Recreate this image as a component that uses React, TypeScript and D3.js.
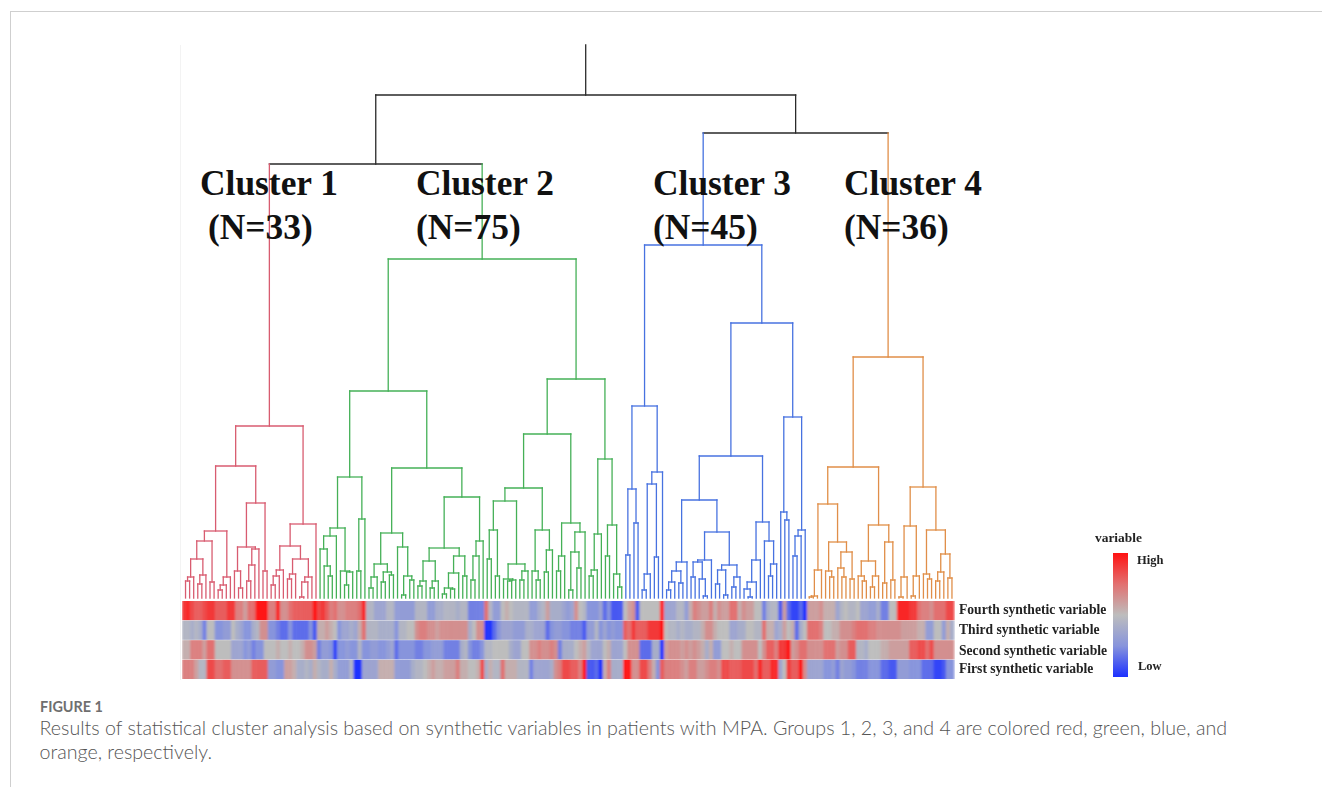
import React from "react";
import * as d3 from "d3";

// Dendrogram merge heights: [height, left, right]; 0 is a single patient (leaf).
const cluster1Tree: any = [172,
  [132,
    [67,
      [57,
        [39, [21, [17, 0, 0], 0], [23, [14, 0, 0], 0]],
        [16, 0, 0]],
      [21, [13, [8, 0, 0], 0], 0]],
    [95,
      [51,
        [27, 0, [10, 0, 0]],
        [49, [33, [17, 0, 0], 0], 0]],
      [27, 0, 0]]],
  [74,
    [52,
      [28, [22, [13, 0, 0], 0], 0],
      [39, [24, [19, 0, 0], 0], [21, [16, [1, 0, 0], 0], 0]]],
    0]];

const cluster2Tree: any = [339,
  [207,
    [121,
      [70,
        [62, [49, 0, [32, 0, [22, 0, 0]]], 0],
        [27, 0, [26, [13, 0, 0], 0]]],
      [79, [27, 0, 0], 0]],
    [130,
      [65,
        [34, [21, [10, 0, 0], 0], [26, [16, 0, 0], [23, 0, 0]]],
        [51, 0, [22, [3, 0, 0], [18, 0, 0]]]],
      [101,
        [50,
          [37, [17, [12, 0, 0], 0], [17, [10, 0, 0], 0]],
          [42, [25, [10, [4, 0, 0], [9, 0, 0]], 0], [22, 0, 0]]],
        [57, [42, [18, 0, 0], 0], 0]]]],
  [219,
    [164,
      [110,
        [97,
          [68, [39, 0, 0], [22, 0, 0]],
          [34, [19, 0, [18, [17, 0, 0], 0]], [27, [18, 0, 0], 0]]],
        [68, [27, 0, [18, 0, 0]], [48, [26, 0, 0], 0]]],
      [75,
        [42, [27, 0, 0], 0],
        [66, [46, [8, 0, 0], [30, 0, 0]], 0]]],
    [139,
      [64, [28, [22, 0, 0], 0], 0],
      [73, [42, 0, 0], [24, 0, [11, 0, 0]]]]]];

const cluster3Tree: any = [353,
  [192,
    [109, [43, 0, 0], [75, 0, 0]],
    [126, [114, [24, [8, 0, 0], 0], [41, 0, 0]], 0]],
  [275,
    [142,
      [98,
        [36, [27, [16, [8, 0, 0], 0], [15, 0, 0]], 0],
        [66,
          [38, [36, [21, 0, 0], [19, 0, [2, 0, 0]]], 0],
          [33, [28, [14, 0, 0], [3, 0, 0]], [21, [11, 0, 0], 0]]]],
      [76,
        [38, [16, [9, 0, [1, 0, 0]], 0], 0],
        [57, 0, [34, [22, 0, 0], 0]]]],
    [181,
      [86, 0, [78, 0, 0]],
      [68, [62, [42, 0, 0], 0], 0]]]];

const cluster4Tree: any = [241,
  [131,
    [94,
      [28, [2, [1, 0, 0], 0], 0],
      [56,
        [27, 0, [21, 0, 0]],
        [46, [30, 0, [21, 0, 0]], [19, 0, 0]]]],
    [73,
      [37, [22, 0, [17, 0, 0]], [22, [11, 0, 0], 0]],
      [56, [15, 0, 0], [18, 0, 0]]]],
  [111,
    [72, [21, [1, 0, 0], 0], [22, [2, 0, 0], 0]],
    [68,
      [24, 0, [19, 0, 0]],
      [44, [26, [17, 0, 0], 0], [20, 0, 0]]]]];

const rootHeight = 503;
const leftHeight = 434;
const rightHeight = 465;
const stemTop = 553;

const clusterColors = ["#d85c70", "#45b057", "#4772e0", "#e08e48"];
const clusterLabels = ["Cluster 1", "Cluster 2", "Cluster 3", "Cluster 4"];
const clusterCounts = ["(N=33)", "(N=75)", "(N=45)", "(N=36)"];

const rowLabels = [
  "Fourth synthetic variable",
  "Third synthetic variable",
  "Second synthetic variable",
  "First synthetic variable",
];

// Heat-map values per patient, -10 (low) to 10 (high).
const fourthVariable = [
  8,9,7,6,6,7,8,8,6,6,6,8,8,4,4,2,5,5,10,10,10,4,4,9,3,3,5,6,6,6,6,6,
  10,7,8,6,4,5,3,3,4,4,4,5,9,-1,-1,-3,-3,-3,-1,-1,-4,-4,-4,-4,-4,-1,-1,-1,-4,-4,-2,-2,
  -1,-1,-1,-2,-1,-1,-6,-6,-6,-6,5,-1,-4,-4,0,1,0,-1,-1,-1,-1,-4,-4,-2,-1,2,-2,-2,-2,-3,-4,-3,
  3,0,-1,-5,-5,-5,-3,-7,-5,-8,-8,-8,0,2,3,-8,0,0,0,0,0,10,-3,-3,-3,-1,-1,-4,1,4,3,2,
  2,4,1,3,2,2,5,5,1,3,2,2,0,0,-6,-2,-1,-1,-8,2,-7,-9,-9,-7,-10,2,2,2,3,1,1,1,
  -3,-1,0,-1,-1,0,-3,-3,-4,-4,-2,-6,-6,0,0,9,9,9,8,8,5,4,4,3,5,5,5,7,7,
];
const thirdVariable = [
  -1,-1,-2,-1,-2,-6,0,0,-5,-5,-4,-4,0,-2,-3,-5,-5,-2,-1,3,3,-5,-5,-6,-7,-7,-5,-7,-7,-7,-7,-5,
  -8,1,1,2,1,0,-5,-3,-3,-2,-3,1,5,-1,-1,-1,-2,-2,-2,-2,-5,-1,-1,0,0,3,4,4,3,3,2,3,
  3,3,3,3,3,3,-2,0,3,3,-10,-10,-7,-5,-3,-3,-3,-4,-4,-4,-2,-2,-3,-3,-3,-7,-5,-4,-4,-5,-5,-6,
  -6,-6,-8,-4,-4,-1,-5,-3,-5,-4,-5,-5,6,5,8,6,6,6,8,8,8,10,0,-1,-1,-2,-1,-2,-2,-1,-1,1,
  3,3,1,0,0,0,-3,-3,-2,-2,0,0,-1,-1,5,1,1,-3,-2,2,0,1,-7,-2,0,5,5,5,4,0,0,1,
  1,3,3,3,4,5,5,5,4,4,3,3,3,3,3,3,2,2,2,2,1,1,-4,-4,0,0,-4,1,-2,
];
const secondVariable = [
  1,1,4,4,4,2,5,5,0,0,0,0,-3,-3,-3,-5,-4,-6,-5,-5,0,0,0,1,0,0,1,0,0,1,3,3,
  2,-6,-4,-4,-5,-9,-5,-5,-4,-5,-5,-1,-5,-5,-4,-4,-5,-5,-4,-3,-7,-5,-5,-5,-5,-6,-6,-5,-5,-4,-4,-4,
  -6,-6,-6,-6,-2,-1,-5,-6,-6,-5,-1,-1,0,0,0,0,-2,-3,-3,0,0,3,3,4,3,3,4,3,-6,-2,-2,-2,
  0,1,2,-1,-3,-3,-3,0,1,-3,-3,-3,0,3,3,3,-7,-7,-7,-2,-2,-10,2,3,3,3,2,3,2,3,2,1,
  -2,1,-4,-4,0,0,1,0,0,3,3,3,3,0,3,6,6,4,8,8,10,2,3,5,5,3,3,3,3,5,5,5,
  2,3,3,6,6,-1,-1,-2,0,0,0,1,1,2,2,2,2,2,6,6,7,7,5,7,3,3,3,3,3,
];
const firstVariable = [
  4,4,4,2,-1,-1,7,7,5,5,6,6,3,3,3,3,3,6,6,6,6,-4,-4,-5,-5,2,2,1,-2,-2,-1,-2,
  1,-1,-2,-2,1,-2,-4,-4,-4,-1,-10,-10,-3,-3,-3,-3,1,1,1,1,-4,-4,-4,-4,-2,-1,-1,0,1,2,1,1,
  2,2,2,4,1,1,0,0,1,7,-2,1,-1,-1,5,1,1,1,-1,-1,-1,-6,-3,-3,-3,-3,-2,3,4,7,7,6,
  6,4,10,-8,-8,-7,-10,1,4,-2,-2,-2,10,10,3,3,7,7,4,1,-5,6,4,4,4,4,3,2,4,4,2,2,
  3,4,4,3,7,7,6,6,6,7,7,7,5,9,6,6,9,9,-3,0,8,6,6,10,3,-3,-3,-3,-3,-5,-5,-4,
  -6,-3,-4,-4,-5,-6,-6,-6,-5,-5,-5,-7,-7,-8,-8,-4,-4,-4,-5,-5,-5,-7,-7,-7,-9,-9,-8,-5,-5,
];
const heatRows = [fourthVariable, thirdVariable, secondVariable, firstVariable];

const legendStops = [10, 5, 0, -5, -10];
const captionLines = [
  "Results of statistical cluster analysis based on synthetic variables in patients with MPA. Groups 1, 2, 3, and 4 are colored red, green, blue, and",
  "orange, respectively.",
];

const W = 1322;
const H = 787;
const serif = "'Liberation Serif', 'Times New Roman', serif";

const colorScale = d3
  .scaleLinear<string>()
  .domain([-10, -5, 0, 5, 10])
  .range(["#1c30ff", "#8794dc", "#bdbdbd", "#e27070", "#ff1212"]);

export default function App() {
  const tree = [rootHeight, [leftHeight, cluster1Tree, cluster2Tree], [rightHeight, cluster3Tree, cluster4Tree]];
  const root = d3.hierarchy<any>(tree, (d) => (Array.isArray(d) ? d.slice(1) : null));
  d3.cluster<any>().size([1, 1]).separation(() => 1)(root);
  const leaves = root.leaves();
  const n = leaves.length;

  const xScale = d3.scaleLinear().domain([0, 1]).range([183.5, 954]);
  const yScale = d3.scaleLinear().domain([0, stemTop]).range([598, 45]);
  const heightOf = (d: any) => (Array.isArray(d.data) ? d.data[0] : 0);

  const clusterTrees = [cluster1Tree, cluster2Tree, cluster3Tree, cluster4Tree];
  const colorOf = new Map<any, string>();
  root.descendants().forEach((d) => {
    const idx = clusterTrees.indexOf(d.data);
    if (idx >= 0) d.descendants().forEach((e) => colorOf.set(e, clusterColors[idx]));
  });

  const segments: { d: string; c: string }[] = [];
  root.descendants().forEach((node) => {
    const c = colorOf.get(node) || "#2a2a2a";
    const x = xScale(node.x as number);
    const y = yScale(heightOf(node));
    const stem = d3.path();
    stem.moveTo(x, node.parent ? yScale(heightOf(node.parent)) : yScale(stemTop));
    stem.lineTo(x, y);
    segments.push({ d: stem.toString(), c });
    if (node.children) {
      const xs = node.children.map((k) => xScale(k.x as number));
      const p = d3.path();
      p.moveTo(Math.min(...xs), y);
      p.lineTo(Math.max(...xs), y);
      segments.push({ d: p.toString(), c });
    }
  });

  const colBand = d3.scaleBand<number>().domain(d3.range(n)).range([182, 954]);
  const rowBand = d3.scaleBand<number>().domain([0, 1, 2, 3]).range([601, 679]).paddingInner(0.02);

  const legendY = d3.scaleLinear().domain([10, -10]).range([553, 677]);
  const labelX = [200, 416, 653, 844];
  const countX = [208, 416, 653, 844];

  return (
    <svg
      width={W}
      height={H}
      viewBox={`0 0 ${W} ${H}`}
      style={{ position: "absolute", left: 0, top: 0, display: "block", background: "#fff" }}
    >
      <defs>
        <filter id="soft" x="-1%" y="-1%" width="102%" height="102%">
          <feGaussianBlur stdDeviation="0.45" />
        </filter>
        <filter id="softText" x="-2%" y="-5%" width="104%" height="110%">
          <feGaussianBlur stdDeviation="0.35" />
        </filter>
        <filter id="softHeat" x="0" y="0" width="100%" height="100%">
          <feGaussianBlur stdDeviation="1.1 0.35" />
        </filter>
        <linearGradient id="legendGrad" x1="0" y1="0" x2="0" y2="1">
          {legendStops.map((v, i) => (
            <stop key={i} offset={(i / (legendStops.length - 1)) * 100 + "%"} stopColor={colorScale(v)} />
          ))}
        </linearGradient>
      </defs>

      {/* page frame */}
      <line x1={10} y1={11.5} x2={W} y2={11.5} stroke="#cfcfcf" />
      <line x1={10.5} y1={11} x2={10.5} y2={H} stroke="#cfcfcf" />
      <line x1={180.5} y1={45} x2={180.5} y2={680} stroke="#f3f3f3" />

      <g filter="url(#soft)">
        {segments.map((s, i) => (
          <path key={i} d={s.d} stroke={s.c} strokeWidth={1.3} fill="none" strokeLinecap="square" />
        ))}
      </g>

      <g filter="url(#softHeat)">
        {heatRows.map((row, r) =>
          row.map((v, i) => (
            <rect
              key={r + "-" + i}
              x={colBand(i)}
              y={rowBand(r)}
              width={colBand.bandwidth() + 0.4}
              height={rowBand.bandwidth()}
              fill={colorScale(v)}
            />
          ))
        )}
      </g>

      {clusterLabels.map((t, i) => (
        <g key={t} fontFamily={serif} fontWeight="bold" fontSize={35.4} fill="#111">
          <text x={labelX[i]} y={195}>{t}</text>
          <text x={countX[i]} y={239}>{clusterCounts[i]}</text>
        </g>
      ))}

      <g fontFamily={serif} fontWeight="bold" fill="#222" filter="url(#softText)">
        {rowLabels.map((t, i) => (
          <text key={t} x={959} y={[614, 634, 654.5, 673][i]} fontSize={13.6}>{t}</text>
        ))}
        <text x={1095} y={542} fontSize={13.4}>variable</text>
        <text x={1137} y={564} fontSize={12.5}>High</text>
        <text x={1138} y={670} fontSize={12.5}>Low</text>
      </g>
      <rect
        x={1113}
        y={legendY(10)}
        width={15}
        height={legendY(-10) - legendY(10)}
        fill="url(#legendGrad)"
      />

      <text x={40} y={711.5} fontFamily="Lato, sans-serif" fontWeight={700} fontSize={14.4} fill="#6f6f6f">FIGURE 1</text>
      {captionLines.map((t, i) => (
        <text key={i} x={39.5} y={735 + i * 23.5} fontFamily="Lato, sans-serif" fontWeight={300} fontSize={19.65} fill="#555">{t}</text>
      ))}
    </svg>
  );
}
